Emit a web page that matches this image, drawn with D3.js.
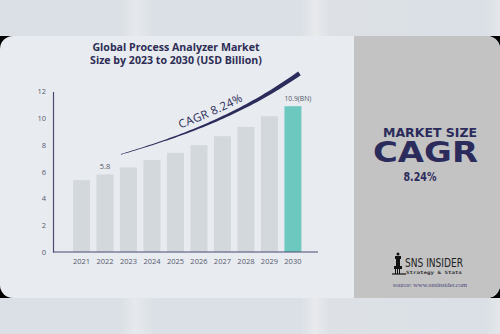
<!DOCTYPE html>
<html><head><meta charset="utf-8">
<script src="https://cdn.jsdelivr.net/npm/d3@7"></script>
<style>html,body{margin:0;padding:0;background:#dae0e6;}svg{display:block;}</style>
</head><body>
<svg id="c" width="500" height="334"></svg>
<script>
const years = ["2021","2022","2023","2024","2025","2026","2027","2028","2029","2030"];
const values = [5.37, 5.8, 6.32, 6.87, 7.41, 7.99, 8.66, 9.35, 10.15, 10.9];
const barLabels = ["", "5.8", "", "", "", "", "", "", "", "10.9(BN)"];
const yTicks = [0, 2, 4, 6, 8, 10, 12];
const titleLines = ["Global Process Analyzer Market", "Size by 2023 to 2030 (USD Billion)"];
const cagrText = "CAGR  8.24%";
const sideLines = ["MARKET SIZE", "CAGR", "8.24%"];

const svg = d3.select("#c");
const navy = "#2b2b5c";

const defs = svg.append("defs");
const bg = defs.append("linearGradient").attr("id","bg").attr("x1",0).attr("x2",1).attr("y1",0).attr("y2",0);
[[0,"#dae0e6"],[0.24,"#dae0e6"],[0.27,"#e6e9ec"],[0.31,"#dae0e6"],[0.6,"#dae0e6"],[0.63,"#e8eaec"],[0.66,"#dde1e6"],[0.97,"#dae0e6"],[1,"#e4e7ea"]]
  .forEach(([o,c])=>bg.append("stop").attr("offset",o).attr("stop-color",c));
svg.append("rect").attr("width",500).attr("height",334).attr("fill","url(#bg)");

svg.append("rect").attr("x",0).attr("y",36).attr("width",500).attr("height",262).attr("fill","#000");
defs.append("clipPath").attr("id","card").append("rect").attr("x",0).attr("y",36).attr("width",500).attr("height",262).attr("rx",13);
const card = svg.append("g").attr("clip-path","url(#card)");
card.append("rect").attr("x",0).attr("y",36).attr("width",500).attr("height",262).attr("fill","#e8ebef");
card.append("rect").attr("x",354).attr("y",36).attr("width",146).attr("height",262).attr("fill","#c3c3c3");

// title
svg.append("text").attr("text-anchor","middle")
  .attr("font-family","'Open Sans', sans-serif").attr("font-weight",700).attr("font-size",10.6).attr("fill","#2d2d55")
  .selectAll("tspan").data(titleLines).join("tspan").attr("x",176).attr("y",(d,i)=>51+i*13).text(d=>d);

// scales
const x = d3.scaleBand().domain(years).range([68.3, 306.1]).paddingInner(0.277).paddingOuter(0.2);
const y = d3.scaleLinear().domain([0,12]).range([252,91.5]);

svg.append("g").selectAll("rect").data(values).join("rect")
  .attr("x",(d,i)=>x(years[i])).attr("width",x.bandwidth())
  .attr("y",d=>y(d)).attr("height",d=>y(0)-y(d))
  .attr("fill",(d,i)=>i===years.length-1?"#6dc8c0":"#d3d8dd");

svg.append("g").selectAll("text").data(values).join("text")
  .attr("x",(d,i)=>x(years[i]) + (i===years.length-1 ? 0 : x.bandwidth()/2))
  .attr("y",d=>y(d)-5)
  .attr("text-anchor",(d,i)=>i===years.length-1?"start":"middle")
  .attr("font-family","'Open Sans', sans-serif").attr("font-size",(d,i)=>i===years.length-1?6.8:7.5)
  .attr("fill","#55596e").text((d,i)=>barLabels[i]);

const yAxis = d3.axisLeft(y).tickValues(yTicks).tickSize(0).tickPadding(7);
const gy = svg.append("g").attr("transform","translate(53,0)").call(yAxis);
gy.select(".domain").attr("stroke","#4a4a70").attr("stroke-width",1.2);
gy.selectAll("text").attr("font-family","'Open Sans', sans-serif").attr("font-size",7.5).attr("fill","#55596e");

const xAxis = d3.axisBottom(x).tickSize(0).tickPadding(7);
const gx = svg.append("g").attr("transform","translate(0,252)").call(xAxis);
gx.select(".domain").attr("d","M53,0H318").attr("stroke","#4a4a70").attr("stroke-width",1.2);
gx.selectAll("text").attr("font-family","'Open Sans', sans-serif").attr("font-size",7.5).attr("fill","#55596e");

// tapered CAGR curve
const p0 = [x("2023")+1, y(7.3)], p3 = [x("2030")+15, y(13.35)];
const p1 = [x("2025")+10, y(8.55)], p2 = [x("2028"), y(10.1)];
function bez(t){const u=1-t;return [0,1].map(k=>u*u*u*p0[k]+3*u*u*t*p1[k]+3*u*t*t*p2[k]+t*t*t*p3[k]);}
function dbez(t){const u=1-t;return [0,1].map(k=>3*u*u*(p1[k]-p0[k])+6*u*t*(p2[k]-p1[k])+3*t*t*(p3[k]-p2[k]));}
const N=60, upper=[], lower=[];
for(let i=0;i<=N;i++){const t=i/N, p=bez(t), d=dbez(t), L=Math.hypot(d[0],d[1]);
  const nx=d[1]/L, ny=-d[0]/L, w=0.3+2.0*Math.pow(t,1.3);
  upper.push([p[0]+nx*w,p[1]+ny*w]); lower.push([p[0]-nx*w,p[1]-ny*w]);}
svg.append("path").attr("d",d3.line()(upper.concat(lower.reverse()))+"Z").attr("fill",navy);

const tp=[];
for(let i=0;i<=N;i++){const t=i/N,p=bez(t),d=dbez(t),L=Math.hypot(d[0],d[1]);tp.push([p[0]+d[1]/L*6,p[1]-d[0]/L*6]);}
defs.append("path").attr("id","tp").attr("d",d3.line()(tp));
svg.append("text").attr("font-family","'Open Sans', sans-serif").attr("font-size",11.5).attr("fill",navy).attr("letter-spacing",0.4)
  .append("textPath").attr("href","#tp").attr("startOffset","33%").text(cagrText);

// side panel
const side = svg.append("g").attr("font-family","'DejaVu Sans', sans-serif").attr("font-weight",700).attr("fill",navy).attr("text-anchor","middle");
side.append("text").attr("x",430).attr("y",136.5).attr("font-size",12.5).attr("textLength",94).attr("lengthAdjust","spacingAndGlyphs").text(sideLines[0]);
side.append("text").attr("x",425.5).attr("y",162).attr("font-size",29).attr("textLength",105).attr("lengthAdjust","spacingAndGlyphs").text(sideLines[1]);
side.append("text").attr("x",420).attr("y",181).attr("font-size",13).attr("textLength",33).attr("lengthAdjust","spacingAndGlyphs").text(sideLines[2]);

// logo
const logo = svg.append("g");
const lx=394, ly=252;
logo.append("rect").attr("x",lx+1).attr("y",ly+4).attr("width",6).attr("height",3).attr("fill","#111");
logo.append("circle").attr("cx",lx+4).attr("cy",ly+2).attr("r",1.5).attr("fill","#111");
logo.append("rect").attr("x",lx+2).attr("y",ly+7).attr("width",4).attr("height",7).attr("fill","#111");
logo.append("rect").attr("x",lx).attr("y",ly+14).attr("width",8).attr("height",3).attr("fill","#111");
logo.append("path").attr("d",`M${lx-2},${ly+22}h14`).attr("stroke","#111").attr("stroke-width",1.2);
[lx+1,lx+3,lx+5].forEach(v=>logo.append("rect").attr("x",v).attr("y",ly+17).attr("width",1).attr("height",5).attr("fill","#111"));
logo.append("text").attr("x",lx+11).attr("y",ly+15).attr("font-family","'Liberation Sans Narrow','DejaVu Sans Condensed',sans-serif").attr("font-size",11.5).attr("textLength",58).attr("lengthAdjust","spacingAndGlyphs").attr("fill","#222").text("SNS INSIDER");
logo.append("text").attr("x",lx+12).attr("y",ly+21.5).attr("font-family","'DejaVu Sans Mono',monospace").attr("font-size",4.4).attr("font-weight",700).attr("textLength",56).attr("lengthAdjust","spacingAndGlyphs").attr("fill","#333").text("Strategy & Stats");
svg.append("text").attr("x",430).attr("y",287).attr("text-anchor","middle").attr("font-family","'Liberation Serif',serif").attr("font-size",6.3).attr("textLength",74).attr("lengthAdjust","spacingAndGlyphs").attr("fill","#4a4a78").text("source: www.snsinsider.com");
</script>
</body></html>
